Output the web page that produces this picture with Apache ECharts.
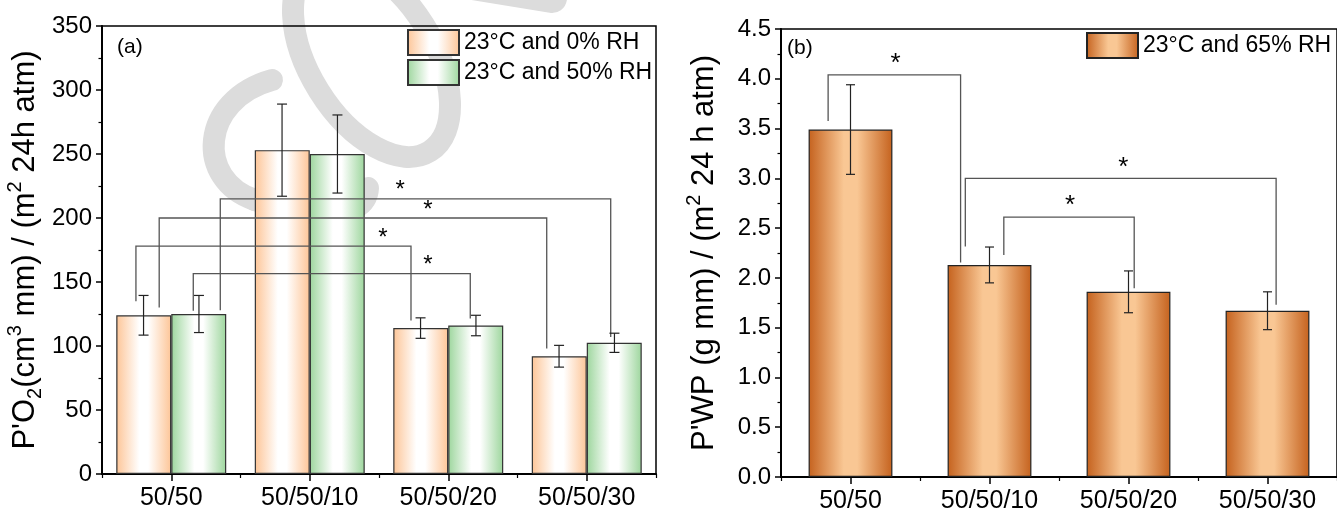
<!DOCTYPE html>
<html>
<head>
<meta charset="utf-8">
<script src="https://cdn.jsdelivr.net/npm/echarts@6/dist/echarts.min.js"></script>
<style>
html, body { margin: 0; padding: 0; background: #fff; }
#main { width: 1337px; height: 514px; }
</style>
</head>
<body>
<div id="main"></div>
<script>
// data
var categories = ['50/50', '50/50/10', '50/50/20', '50/50/30'];
var o2Dry = [124, 253, 114, 92];
var o2DryErr = [15.5, 36, 8, 8.5];
var o2Wet = [125, 250, 116, 102.5];
var o2WetErr = [14.5, 30.5, 8, 7.5];
var wvp = [3.49, 2.13, 1.86, 1.67];
var wvpErr = [0.45, 0.18, 0.21, 0.19];
var o2Ticks = [0, 350, 50];
var wvpTicks = [0, 4.5, 0.5];
// significance brackets: [from (category units), to, level, left leg end, right leg end, star position]
var o2Brackets = [
	[0.354, 3.173, 215, 128, 107, 1.652],
	[-0.087, 2.711, 200, 130, 98, 1.854],
	[-0.255, 1.731, 178, 135, 120, 1.529],
	[0.159, 2.159, 156.5, 127.5, 121.5, 1.854]
];
var wvpBrackets = [
	[-0.161, 0.792, 4.04, 3.575, 2.155, 0.325],
	[0.826, 3.062, 3.0, 2.315, 1.73, 1.962],
	[1.103, 2.041, 2.61, 2.23, 1.895, 1.579]
];

var FONT = "'Liberation Sans', Arial, sans-serif";
var myChart = echarts.init(document.getElementById('main'));

function grad(edge, mid) {
	return {
		type: 'linear', x: 0, y: 0, x2: 1, y2: 0,
		colorStops: [
			{offset: 0, color: edge},
			{offset: 0.42, color: mid},
			{offset: 0.58, color: mid},
			{offset: 1, color: edge}
		]
	};
}

function errorSeries(xi, vals, errs, shift, cap) {
	return {
		type: 'custom',
		xAxisIndex: xi,
		yAxisIndex: xi,
		z: 5,
		silent: true,
		data: vals.map(function(v, i) { return [i, v, errs[i]]; }),
		renderItem: function(params, api) {
			var band = api.size([1, 0])[0];
			var x = api.coord([api.value(0), 0])[0] + shift * band;
			var top = api.coord([api.value(0), api.value(1) + api.value(2)])[1];
			var bot = api.coord([api.value(0), api.value(1) - api.value(2)])[1];
			var st = {stroke: '#222', lineWidth: 1.2};
			return {
				type: 'group',
				children: [
					{type: 'line', shape: {x1: x, y1: top, x2: x, y2: bot}, style: st},
					{type: 'line', shape: {x1: x - cap, y1: top, x2: x + cap, y2: top}, style: st},
					{type: 'line', shape: {x1: x - cap, y1: bot, x2: x + cap, y2: bot}, style: st}
				]
			};
		}
	};
}

function bracketSeries(xi, list, starSize, starLift) {
	return {
		type: 'custom',
		xAxisIndex: xi,
		yAxisIndex: xi,
		z: 4,
		silent: true,
		data: list.map(function(b) { return [0, b[2]]; }),
		renderItem: function(params, api) {
			var b = list[params.dataIndex];
			var band = api.size([1, 0])[0];
			var x0 = api.coord([0, 0])[0];
			var xa = x0 + b[0] * band;
			var xb = x0 + b[1] * band;
			var yl = api.coord([0, b[2]])[1];
			var ya = api.coord([0, b[3]])[1];
			var yb = api.coord([0, b[4]])[1];
			var st = {stroke: '#555', lineWidth: 1.3, fill: null};
			return {
				type: 'group',
				children: [
					{type: 'polyline', shape: {points: [[xa, ya], [xa, yl], [xb, yl], [xb, yb]]}, style: st},
					{type: 'text', x: x0 + b[5] * band, y: yl - starLift,
						style: {text: '*', fontSize: starSize, fontFamily: FONT, fill: '#000', align: 'center', verticalAlign: 'middle'}}
				]
			};
		}
	};
}

var nameRich = {
	n: {fontSize: 31, fontFamily: FONT, color: '#000', lineHeight: 40},
	sup: {fontSize: 20, fontFamily: FONT, color: '#000', verticalAlign: 'top', lineHeight: 22},
	sub: {fontSize: 20, fontFamily: FONT, color: '#000', verticalAlign: 'bottom', lineHeight: 16}
};

function yAxisOpt(gi, ticks, name, gap, fmt) {
	return {
		type: 'value',
		gridIndex: gi,
		min: ticks[0], max: ticks[1], interval: ticks[2],
		name: name,
		nameLocation: 'middle',
		nameRotate: 90,
		nameGap: gap,
		nameTextStyle: {rich: nameRich, fontSize: 31, fontFamily: FONT, color: '#000'},
		axisLine: {show: true, lineStyle: {color: '#000', width: 2}},
		axisTick: {show: true, length: 6, lineStyle: {color: '#000', width: 1.5}},
		minorTick: {show: true, splitNumber: 2, length: 3.5, lineStyle: {color: '#000', width: 1.2}},
		splitLine: {show: false},
		axisLabel: {fontSize: 24, fontFamily: FONT, color: '#000', margin: 10, formatter: fmt}
	};
}

function xAxisOpts(gi) {
	return [{
		type: 'category',
		gridIndex: gi,
		data: categories,
		position: 'bottom',
		axisLine: {show: true, lineStyle: {color: '#000', width: 2}},
		axisTick: {show: true, alignWithLabel: true, length: 7, lineStyle: {color: '#000', width: 1.5}},
		axisLabel: {fontSize: 25, fontFamily: FONT, color: '#000', margin: 12},
		splitLine: {show: false}
	}, {
		type: 'category',
		gridIndex: gi,
		data: categories,
		position: 'bottom',
		axisLine: {show: false},
		axisTick: {show: true, length: 4, lineStyle: {color: '#000', width: 1.2}},
		axisLabel: {show: false},
		splitLine: {show: false}
	}];
}

var xa = xAxisOpts(0);
var xb = xAxisOpts(1);

// light grey watermark behind panel (a)
var wmStyle = {stroke: '#DCDCDC', lineWidth: 22, fill: null, lineCap: 'round'};

option = {
	backgroundColor: '#fff',
	animation: false,
	textStyle: {fontFamily: FONT},
	grid: [
		{left: 102, top: 26, width: 554, height: 448, show: true, borderColor: '#000', borderWidth: 1.5, containLabel: false},
		{left: 781, top: 29, width: 556, height: 451, show: true, borderColor: '#000', borderWidth: 1.5, containLabel: false}
	],
	xAxis: [xa[0], xb[0], xa[1], xb[1]],
	yAxis: [
		yAxisOpt(0, o2Ticks, "{n|P'O}{sub|2}{n|(cm}{sup|3}{n| mm) / (m}{sup|2}{n| 24h atm)}", 57),
		yAxisOpt(1, wvpTicks, "{n|P'WP (g mm) / (m}{sup|2}{n| 24 h atm)}", 57, function(v) { return v.toFixed(1); })
	],
	legend: [{
		data: ['23°C and 0% RH', '23°C and 50% RH'],
		orient: 'vertical',
		left: 407, top: 29,
		padding: 0,
		itemWidth: 51, itemHeight: 25, itemGap: 3,
		icon: 'rect',
		textStyle: {fontSize: 23, fontFamily: FONT, color: '#000'}
	}, {
		data: ['23°C and 65% RH'],
		orient: 'vertical',
		left: 1086, top: 32,
		padding: 0,
		itemWidth: 51, itemHeight: 25,
		icon: 'rect',
		textStyle: {fontSize: 23, fontFamily: FONT, color: '#000'}
	}],
	graphic: [
		{type: 'ellipse', silent: true, z: -10, x: 371.5, y: 58, rotation: -58 * Math.PI / 180,
			shape: {cx: 0, cy: 0, rx: 110, ry: 62}, style: wmStyle},
		{type: 'line', silent: true, z: -10, shape: {x1: 430, y1: -22, x2: 552, y2: -2},
			style: {stroke: '#DCDCDC', lineWidth: 30, lineCap: 'round'}},
		{type: 'bezierCurve', silent: true, z: -10,
			shape: {x1: 272, y1: 80, cpx1: 200, cpy1: 100, cpx2: 195, cpy2: 180, x2: 255, y2: 200}, style: wmStyle},
		{type: 'bezierCurve', silent: true, z: -10,
			shape: {x1: 255, y1: 200, cpx1: 300, cpy1: 215, cpx2: 366, cpy2: 225, x2: 368, y2: 188}, style: wmStyle},
		{type: 'text', left: 117, top: 37, style: {text: '(a)', fontSize: 21, fontFamily: FONT, fill: '#000'}},
		{type: 'text', left: 787, top: 38, style: {text: '(b)', fontSize: 21, fontFamily: FONT, fill: '#000'}}
	],
	series: [
		{
			name: '23°C and 0% RH', type: 'bar', xAxisIndex: 0, yAxisIndex: 0,
			data: o2Dry, barGap: '0%', barCategoryGap: '20.6%',
			itemStyle: {color: grad('#FDC597', '#FFFFFF'), borderColor: '#333', borderWidth: 1.2}
		},
		{
			name: '23°C and 50% RH', type: 'bar', xAxisIndex: 0, yAxisIndex: 0,
			data: o2Wet, barGap: '0%', barCategoryGap: '20.6%',
			itemStyle: {color: grad('#9DD69D', '#FFFFFF'), borderColor: '#333', borderWidth: 1.2}
		},
		{
			name: '23°C and 65% RH', type: 'bar', xAxisIndex: 1, yAxisIndex: 1,
			data: wvp, barCategoryGap: '39.7%',
			itemStyle: {color: grad('#C5621E', '#F9C794'), borderColor: '#222', borderWidth: 1.2}
		},
		errorSeries(0, o2Dry, o2DryErr, -0.2, 5),
		errorSeries(0, o2Wet, o2WetErr, 0.2, 5),
		errorSeries(1, wvp, wvpErr, 0, 4.5),
		bracketSeries(0, o2Brackets, 24, 8),
		bracketSeries(1, wvpBrackets, 26, 11)
	]
};

myChart.setOption(option);
</script>
</body>
</html>
